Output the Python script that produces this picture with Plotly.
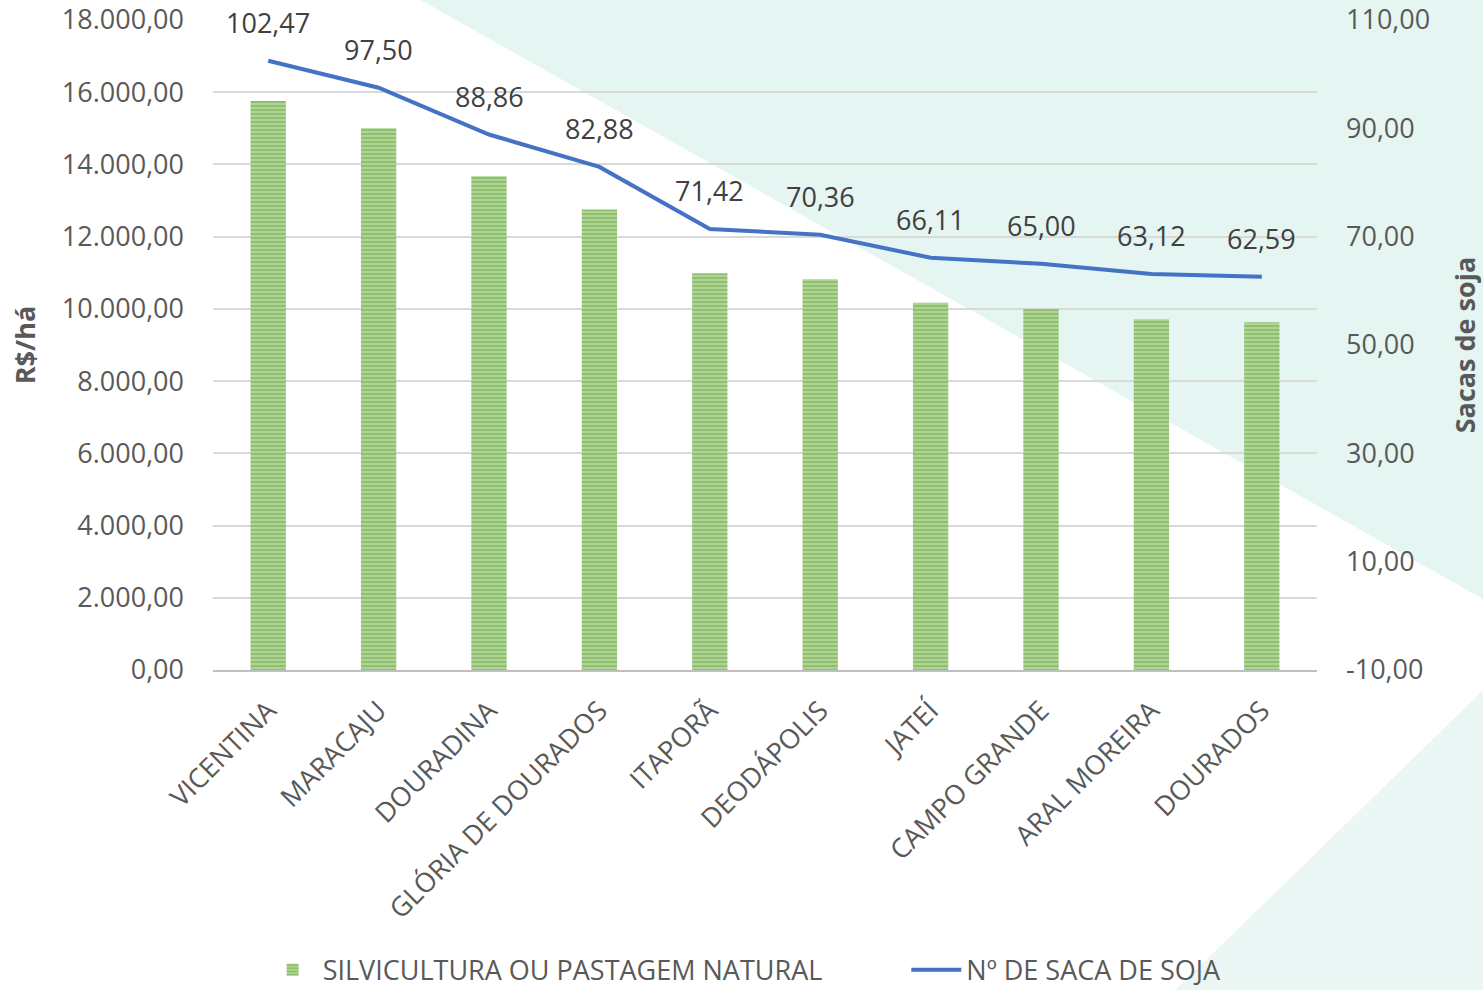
import plotly.graph_objects as go

# dados
municipios = ['VICENTINA', 'MARACAJU', 'DOURADINA', 'GLÓRIA DE DOURADOS', 'ITAPORÃ',
              'DEODÁPOLIS', 'JATEÍ', 'CAMPO GRANDE', 'ARAL MOREIRA', 'DOURADOS']
valor_ha = [15760, 15000, 13670, 12750, 10985, 10820, 10170, 10000, 9710, 9630]
sacas = [102.47, 97.50, 88.86, 82.88, 71.42, 70.36, 66.11, 65.00, 63.12, 62.59]

ticks_esq = [0, 2000, 4000, 6000, 8000, 10000, 12000, 14000, 16000, 18000]
ticks_dir = [-10, 10, 30, 50, 70, 90, 110]


def br(v):
    # formato brasileiro: 18.000,00
    s = f'{v:,.2f}'
    return s.replace(',', 'X').replace('.', ',').replace('X', '.')


cinza = '#595959'
fonte = 'Open Sans'
tam = 27

fig = go.Figure()

fig.add_trace(go.Bar(
    x=municipios, y=valor_ha, name='SILVICULTURA OU PASTAGEM NATURAL',
    width=0.32, legend='legend',
    marker=dict(color='#8fc26b', line=dict(width=0),
                pattern=dict(shape='-', fgcolor='#62a33a', bgcolor='#bcdca5',
                             size=4, solidity=0.65)),
))

fig.add_trace(go.Scatter(
    x=municipios, y=sacas, name='Nº DE SACA DE SOJA', yaxis='y2', legend='legend2',
    mode='lines', line=dict(color='#4472c4', width=4),
))

for m, s in zip(municipios, sacas):
    fig.add_annotation(x=m, y=s, yref='y2', text=br(s), showarrow=False,
                       yshift=38, font=dict(size=tam, color='#404040', family=fonte))

# fundo decorativo em faixas diagonais
fig.add_shape(type='path', xref='paper', yref='paper', layer='below',
              path='M 0.1784 1.04 L 1.16 1.04 L 1.16 0.1 Z',
              fillcolor='#e5f5f2', line=dict(width=0))
fig.add_shape(type='path', xref='paper', yref='paper', layer='below',
              path='M 1.16 -0.0154 L 1.16 -0.5 L 0.8668 -0.5 Z',
              fillcolor='#ebf7f4', line=dict(width=0))

leg = dict(orientation='h', yanchor='middle', xanchor='left', y=-0.462,
           font=dict(size=tam, color=cinza), bgcolor='rgba(0,0,0,0)', itemwidth=50)

fig.update_layout(
    width=1483, height=990,
    margin=dict(l=213, r=166, t=20, b=320, autoexpand=False),
    paper_bgcolor='white', plot_bgcolor='rgba(0,0,0,0)',
    font=dict(family=fonte, size=tam, color=cinza),
    showlegend=True,
    legend=dict(leg, x=0.045),
    legend2=dict(leg, x=0.628),
    xaxis=dict(tickangle=-45, tickfont=dict(size=tam, color=cinza), showgrid=False,
               showline=True, linecolor='#bfbfbf', linewidth=2, ticks='',
               automargin=False, ticklabelstandoff=12),
    yaxis=dict(range=[0, 18000], tickvals=ticks_esq, ticktext=[br(v) for v in ticks_esq],
               gridcolor='#d9d9d9', gridwidth=1.5, zeroline=False, automargin=False,
               title=dict(text='<b>R$/há</b>', font=dict(size=tam, color=cinza), standoff=18),
               tickfont=dict(size=tam, color=cinza), ticklabelstandoff=28),
    yaxis2=dict(range=[-10, 110], overlaying='y', side='right', tickvals=ticks_dir,
                ticktext=[br(v) for v in ticks_dir], showgrid=False, zeroline=False,
                automargin=False,
                title=dict(text='<b>Sacas de soja</b>', font=dict(size=tam, color=cinza), standoff=28),
                tickfont=dict(size=tam, color=cinza), ticklabelstandoff=28),
)

fig.write_html('out.html', config={'displayModeBar': False},
               post_script="document.body.style.margin='0';")
